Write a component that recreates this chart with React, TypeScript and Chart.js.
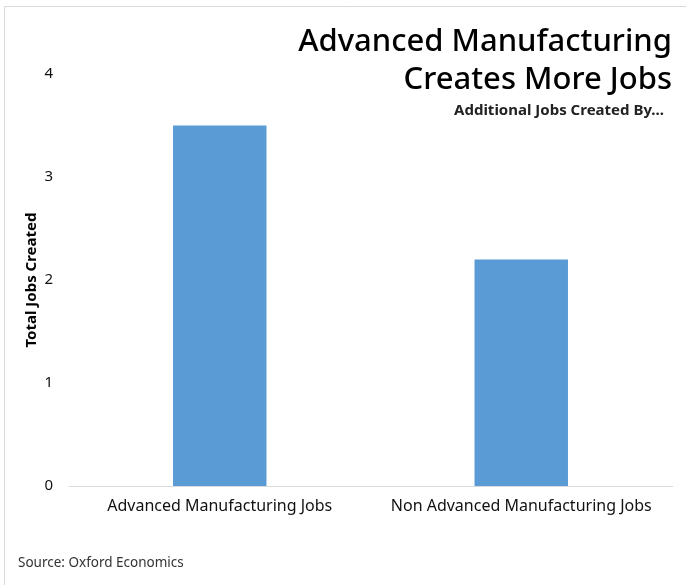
import React, { useEffect, useRef } from "react";
import { Chart, registerables } from "chart.js";
Chart.register(...registerables);

const categories = ["Advanced Manufacturing Jobs", "Non Advanced Manufacturing Jobs"];
const jobsCreated = [3.5, 2.2];
const titleLines = ["Advanced Manufacturing", "Creates More Jobs"];
const subtitleText = "Additional Jobs Created By...";
const sourceText = "Source: Oxford Economics";
const yAxisTitle = "Total Jobs Created";

const FONT = "'Noto Sans', 'Open Sans', sans-serif";

const textPlugin = {
  id: "textPlugin",
  afterDraw(chart: any) {
    const ctx = chart.ctx;
    ctx.save();
    // frame lines
    ctx.strokeStyle = "#d9d9d9";
    ctx.lineWidth = 1;
    ctx.beginPath();
    ctx.moveTo(686, 6.5);
    ctx.lineTo(4.5, 6.5);
    ctx.lineTo(4.5, 585);
    ctx.stroke();
    // title
    ctx.fillStyle = "#000";
    ctx.textAlign = "right";
    ctx.textBaseline = "middle";
    ctx.font = `500 31px ${FONT}`;
    ctx.fillText(titleLines[0], 672, 42);
    ctx.fillText(titleLines[1], 672, 80);
    ctx.font = `bold 15px ${FONT}`;
    ctx.fillStyle = "#222";
    ctx.fillText(subtitleText, 664, 111);
    // source
    ctx.textAlign = "left";
    ctx.font = `13.5px ${FONT}`;
    ctx.fillStyle = "#333";
    ctx.fillText(sourceText, 18, 563);
    ctx.restore();
  },
};

export default function App() {
  const ref = useRef<HTMLCanvasElement>(null);
  useEffect(() => {
    const chart = new Chart(ref.current!, {
      type: "bar",
      data: {
        labels: categories,
        datasets: [
          {
            data: jobsCreated,
            backgroundColor: "#5B9BD5",
            barPercentage: 0.31,
            categoryPercentage: 1,
          },
        ],
      },
      options: {
        animation: false,
        responsive: false,
        layout: { padding: { top: 74, left: 23, right: 14, bottom: 59 } },
        plugins: { legend: { display: false }, tooltip: { enabled: false } },
        scales: {
          x: {
            grid: { display: false, drawTicks: false },
            border: { display: true, color: "#d9d9d9", width: 1 },
            ticks: {
              padding: 11,
              color: "#111",
              font: { family: FONT, size: 16 },
              maxRotation: 0,
            },
            afterFit: (s: any) => {
              s.height = 40;
            },
          },
          y: {
            min: 0,
            max: 4,
            grid: { display: false, drawTicks: false },
            border: { display: false },
            ticks: {
              stepSize: 1,
              padding: 16,
              color: "#111",
              font: { family: FONT, size: 15 },
            },
            title: {
              display: true,
              text: yAxisTitle,
              color: "#000",
              font: { family: FONT, size: 15, weight: "bold" },
              padding: 0,
            },
            afterFit: (s: any) => {
              s.width = 46;
            },
          },
        },
      },
      plugins: [textPlugin],
    });
    return () => chart.destroy();
  }, []);
  return (
    <div style={{ position: "fixed", left: 0, top: 0, width: 686, height: 585, background: "#fff" }}>
      <canvas ref={ref} width={686} height={585} style={{ width: 686, height: 585 }} />
    </div>
  );
}
